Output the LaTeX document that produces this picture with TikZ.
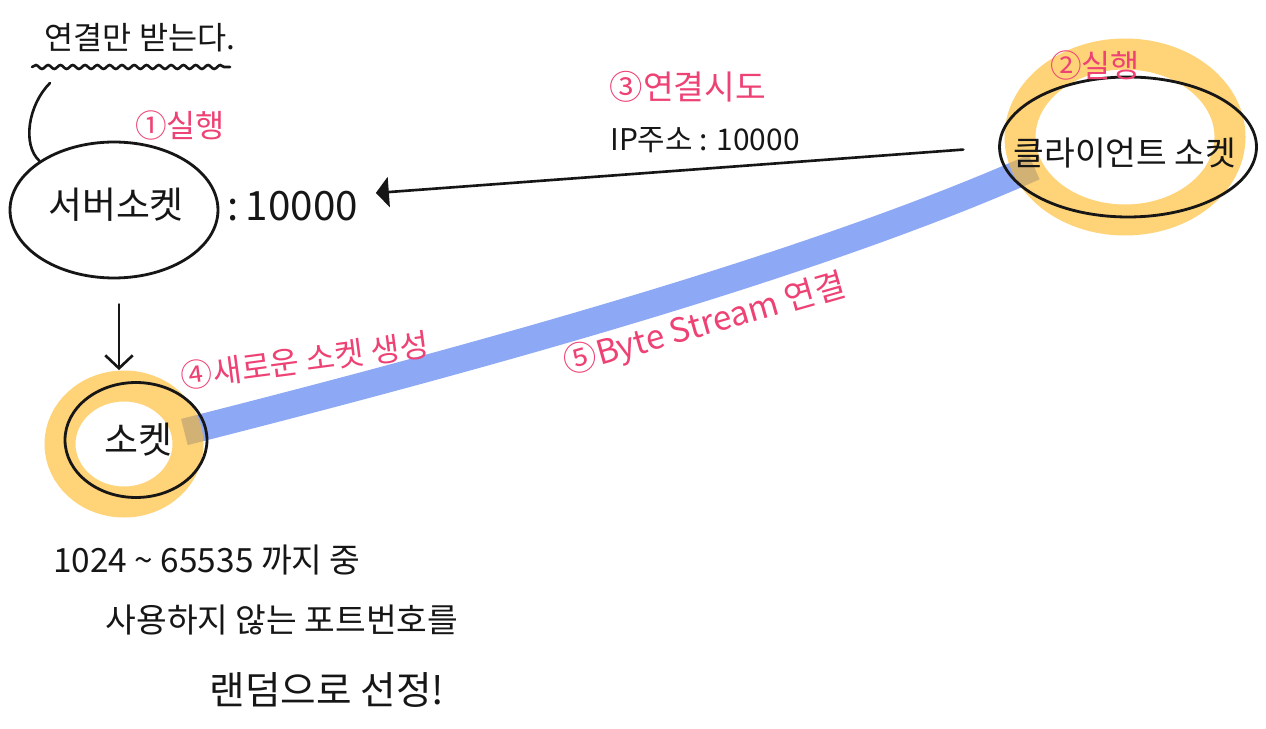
\documentclass[tikz,border=0pt]{standalone}
\usepackage{fontspec}
\setmainfont{Noto Sans CJK KR}
\usepackage{tikz}
\usetikzlibrary{shapes.geometric, arrows.meta, decorations.pathmorphing, backgrounds}
\definecolor{inkColor}{RGB}{22, 22, 22}
\definecolor{stepPink}{RGB}{238, 66, 116}
\definecolor{hlYellow}{RGB}{255, 183, 30}
\definecolor{streamBlue}{RGB}{141, 168, 245}
\tikzset{
    sock_node/.style={
        ellipse,
        draw=inkColor,
        line width=1.6pt,
        inner sep=0pt
    },
    hand_text/.style={
        text=inkColor,
        inner sep=2pt,
        font=\fontsize{19pt}{23pt}\selectfont
    },
    step_text/.style={
        text=stepPink,
        inner sep=1pt,
        font=\fontsize{18pt}{22pt}\selectfont
    },
    hl_ring/.style={
        draw=hlYellow,
        draw opacity=0.6,
        line width=0.62cm
    },
    stream_band/.style={
        draw=streamBlue,
        line width=0.54cm
    },
    ink_line/.style={
        draw=inkColor,
        line width=1.5pt,
        line cap=round
    },
    req_edge/.style={
        ink_line,
        -{Triangle[length=2.6mm, width=6mm]}
    },
    down_edge/.style={
        ink_line,
        -{Straight Barb[length=2.6mm, width=5.5mm]}
    }
}

\begin{document}
\begin{tikzpicture}[x=0.02cm, y=-0.02cm]
    \useasboundingbox (0,0) rectangle (1266,729);

    % the three sockets
    \node[sock_node, minimum width=4.16cm, minimum height=2.72cm] (server) at (114,210) {};
    \node[sock_node, minimum width=5.14cm, minimum height=2.8cm] (client) at (1128,147) {};
    \node[sock_node, minimum width=2.84cm, minimum height=2.3cm] (socket) at (136,440) {};

    \node[hand_text, font=\fontsize{21pt}{25pt}\selectfont] (serverText) at (116,205) {서버소켓};
    \node[hand_text] (clientText) at (1125,153) {클라이언트 소켓};
    \node[hand_text, font=\fontsize{21pt}{25pt}\selectfont] (socketText) at (138,440) {소켓};
    \node[hand_text, font=\fontsize{23pt}{27pt}\selectfont, anchor=west] (port) at (224,206) {:\,10000};

    % notes
    \node[hand_text, font=\fontsize{18pt}{22pt}\selectfont] (note) at (140,38) {연결만 받는다.};
    \node[hand_text, font=\fontsize{17pt}{21pt}\selectfont] (ipText) at (705,140) {IP주소 : 10000};
    \node[hand_text] (rangeA) at (207,560) {1024 \textasciitilde{} 65535 까지 중};
    \node[hand_text] (rangeB) at (282,620) {사용하지 않는 포트번호를};
    \node[hand_text, font=\fontsize{22pt}{26pt}\selectfont] (rangeC) at (327,690) {랜덤으로 선정!};

    % steps
    \node[step_text] (stepOne) at (180,125) {①실행};
    \node[step_text] (stepTwo) at (1095,65) {②실행};
    \node[step_text, font=\fontsize{19pt}{23pt}\selectfont] (stepThree) at (688,87) {③연결시도};
    \node[step_text, rotate=7.5] (stepFour) at (305,360) {④새로운 소켓 생성};
    \node[step_text, font=\fontsize{19pt}{23pt}\selectfont, rotate=16] (stepFive) at (705,325) {⑤Byte Stream 연결};

    \coordinate (noteTail) at (50,83);

    \draw[ink_line, decorate, decoration={snake, amplitude=1.1pt, segment length=7pt}]
        (32,67) -- (230,67);
    \draw[ink_line] (noteTail) .. controls (28,105) and (22,145) .. (server.north west);
    \draw[down_edge, shorten <=0.5cm, shorten >=0.22cm]
        (server.south -| 119,0) -- (socket.north -| 119,0);
    \draw[req_edge, shorten <=0.7cm] (client.west) -- ([shift={(14,-13)}]port.east);

    \begin{scope}[on background layer]
        \fill[white] (0,0) rectangle (1266,729);
        \draw[stream_band] ([shift={(-24,-8)}]socket.east)
            .. controls (500,352) and (820,262) .. ([shift={(36,20)}]client.west);
        \draw[hl_ring] (1125,137) ellipse [x radius=105, y radius=83];
        \draw[hl_ring] (124,444) ellipse [x radius=64, y radius=58];
    \end{scope}
\end{tikzpicture}
\end{document}
